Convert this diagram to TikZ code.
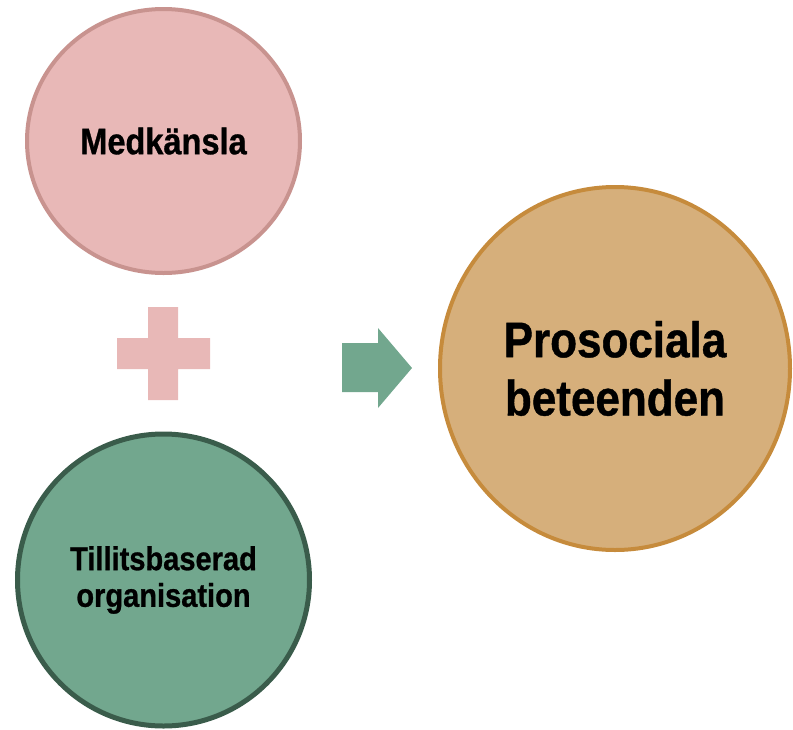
\documentclass[tikz,border=0pt]{standalone}
\usepackage{fontspec}
\setmainfont{Liberation Sans}[FakeStretch=0.88,BoldFeatures={FakeBold=0.8}]
\usetikzlibrary{shapes.geometric}
\definecolor{pinkfill}{HTML}{E8B8B7}
\definecolor{pinkline}{HTML}{C8938F}
\definecolor{greenfill}{HTML}{72A78E}
\definecolor{greenline}{HTML}{3A5C4B}
\definecolor{tanfill}{HTML}{D6AF7B}
\definecolor{tanline}{HTML}{C68B3C}
\tikzset{
  bubble/.style={ellipse, inner sep=0pt, align=center, text=black},
}
\begin{document}
\begin{tikzpicture}[x=1pt,y=-1pt]
\useasboundingbox (0,0) rectangle (793,729);
\node[bubble, fill=pinkfill, draw=pinkline, line width=4pt,
      minimum width=273pt, minimum height=264pt,
      font=\bfseries\fontsize{37}{44}\selectfont] (med) at (163.5,141) {Medkänsla};
\node[bubble, fill=greenfill, draw=greenline, line width=5pt,
      minimum width=292pt, minimum height=292pt,
      font=\bfseries\fontsize{33}{36.7}\selectfont] (tillit) at (163.5,580) {Tillitsbaserad\\organisation};
\node[bubble, fill=tanfill, draw=tanline, line width=4pt,
      minimum width=350pt, minimum height=363pt,
      font=\bfseries\fontsize{50}{58.3}\selectfont] (pro) at (615,368.5) {Prosociala\\beteenden};
% plus sign
\fill[pinkfill] (148,307) -- (178,307) -- (178,338) -- (210,338) -- (210,369) -- (178,369)
  -- (178,400) -- (148,400) -- (148,369) -- (117,369) -- (117,338) -- (148,338) -- cycle;
% block arrow
\fill[greenfill] (342,343) -- (378,343) -- (378,328) -- (412,368) -- (378,408) -- (378,392)
  -- (342,392) -- cycle;
\end{tikzpicture}
\end{document}
